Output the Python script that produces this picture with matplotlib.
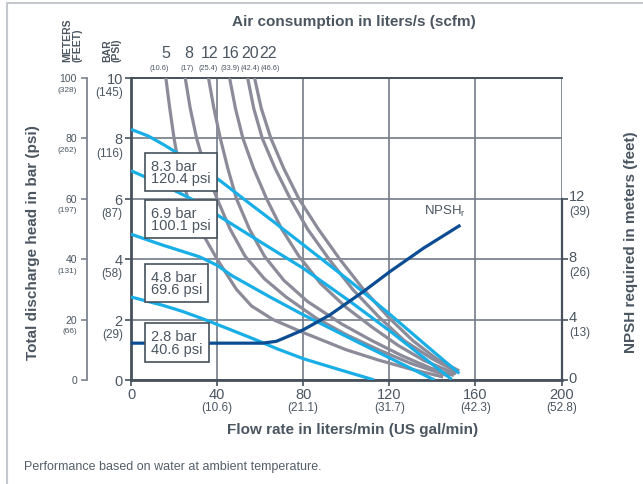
import numpy as np
import matplotlib.pyplot as plt
import matplotlib.transforms as mtransforms

plt.rcParams['font.family'] = ['Liberation Sans', 'DejaVu Sans']

# flow rate (l/min) vs discharge head (bar)
# air consumption curves (scfm)
air_5 = [(16.2, 10), (18, 9), (20, 8), (22.5, 7), (26.5, 6), (32, 5), (40, 4), (49, 3),
         (56, 2.45), (66, 2.0), (79, 1.6), (100, 1.0), (115, 0.66), (130, 0.36), (145, 0.1)]
air_8 = [(25.2, 10), (27.5, 9), (30.5, 8), (34.5, 7), (40, 6), (46, 5), (53, 4.1), (62, 3.35),
         (72, 2.75), (86, 2.05), (100, 1.5), (115, 1.0), (130, 0.55), (148, 0.12)]
air_12 = [(36, 10), (38.5, 9), (41.5, 8), (45, 7), (49, 6), (55, 5), (62, 4.1), (71, 3.3),
          (82, 2.6), (98, 1.85), (112, 1.3), (126, 0.8), (139, 0.4), (150, 0.15)]
air_16 = [(45.8, 10), (48.5, 9), (52, 8), (57, 7), (63, 6), (70, 5), (78, 4.1), (88, 3.2),
          (100, 2.4), (112, 1.75), (124, 1.15), (136, 0.65), (151, 0.2)]
air_20 = [(54.2, 10), (57, 9), (61, 8), (67, 7), (74, 6), (82, 5), (92, 4), (103, 3),
          (115, 2.1), (127, 1.3), (140, 0.7), (152, 0.25)]
air_22 = [(57.4, 10), (60.5, 9), (65, 8), (71, 7), (78, 6), (87, 5), (97, 4), (108, 3),
          (120, 2.05), (131, 1.3), (142, 0.7), (152.5, 0.3)]
air_curves = [air_5, air_8, air_12, air_16, air_20, air_22]
air_labels = ['5', '8', '12', '16', '20', '22']
air_sub = ['(10.6)', '(17)', '(25.4)', '(33.9)', '(42.4)', '(46.6)']

# air inlet pressure curves
p_83 = [(0, 8.3), (8, 8.08), (15, 7.8), (23, 7.45), (32, 7.05), (41.4, 6.6), (55, 5.85),
        (67, 5.2), (80, 4.48), (101.8, 3.27), (120.5, 2.16), (142.3, 0.83), (152.5, 0.22)]
p_69 = [(0, 6.93), (8, 6.68), (16, 6.42), (24, 6.14), (32, 5.85), (41.5, 5.4), (55, 4.8),
        (67, 4.27), (80, 3.7), (101.8, 2.6), (120.5, 1.61), (142.3, 0.39), (149, 0.02)]
p_48 = [(0, 4.83), (8.4, 4.62), (15, 4.46), (23, 4.28), (31.8, 4.08), (40, 3.8), (47, 3.45),
        (64.8, 2.74), (80, 2.16), (101.8, 1.38), (126.7, 0.5), (141, 0.0)]
p_28 = [(0, 2.75), (14.9, 2.47), (24, 2.27), (33.6, 2.02), (45, 1.7), (57, 1.36), (68, 1.03),
        (80.3, 0.7), (96, 0.36), (113, 0.0)]
pressure_curves = [p_83, p_69, p_48, p_28]
pressure_text = ['8.3 bar\n120.4 psi', '6.9 bar\n100.1 psi', '4.8 bar\n69.6 psi', '2.8 bar\n40.6 psi']
box_y = [6.89, 5.33, 3.21, 1.24]

# NPSH required (m)
npsh_flow = [0, 61, 67.5, 74, 80, 92.5, 108, 120.5, 136, 152.4]
npsh_m = [2.44, 2.44, 2.56, 2.95, 3.32, 4.32, 5.86, 7.2, 8.74, 10.2]

x_ticks = [0, 40, 80, 120, 160, 200]
x_sub = ['', '(10.6)', '(21.1)', '(31.7)', '(42.3)', '(52.8)']
bar_ticks = [0, 2, 4, 6, 8, 10]
psi_sub = ['', '(29)', '(58)', '(87)', '(116)', '(145)']
m_ticks = [0, 20, 40, 60, 80, 100]
ft_sub = ['', '(66)', '(131)', '(197)', '(262)', '(328)']
npsh_ticks = [0, 4, 8, 12]
npsh_sub = ['', '(13)', '(26)', '(39)']

txt = '#4b5661'
dark = '#46515c'
gray = '#8b8b9a'
blue = '#19aee6'
navy = '#0b4c93'

fig = plt.figure(figsize=(6.43, 4.85), dpi=100)
ax = fig.add_axes([131 / 643, 104 / 485, 430.5 / 643, 302 / 485])
ax.set_xlim(0, 200)
ax.set_ylim(0, 10)

for c in air_curves:
    xs, ys = zip(*c)
    ax.plot(xs, ys, color=gray, lw=2.3, solid_capstyle='butt', zorder=3)
for c in pressure_curves:
    xs, ys = zip(*c)
    ax.plot(xs, ys, color=blue, lw=2.3, solid_capstyle='butt', zorder=4)

ax.set_xticks(x_ticks)
ax.set_yticks(bar_ticks)
ax.set_xticklabels([])
ax.set_yticklabels([])
ax.grid(True, color='#737c87', lw=1.2)
ax.set_axisbelow(True)
ax.tick_params(direction='out', length=4, width=1.2, color=dark)
for s in ['left', 'bottom']:
    ax.spines[s].set_color(dark)
    ax.spines[s].set_linewidth(2)
ax.spines['top'].set_color(dark)
ax.spines['top'].set_linewidth(1.4)
ax.spines['right'].set_visible(False)

# NPSH axis on the right
ax_r = ax.twinx()
ax_r.set_ylim(0, 20)
ax_r.plot(npsh_flow, npsh_m, color=navy, lw=2.3, zorder=5)
ax_r.set_yticks(npsh_ticks)
ax_r.set_yticklabels([])
ax_r.tick_params(direction='out', length=4, width=1.2, color=dark)
for s in ['left', 'top', 'bottom']:
    ax_r.spines[s].set_visible(False)
ax_r.spines['right'].set_bounds(0, 12)
ax_r.spines['right'].set_color(dark)
ax_r.spines['right'].set_linewidth(1.6)
ax_r.text(136.1, 11.26, r'NPSH$_{\mathregular{r}}$', color=txt, fontsize=9.5, va='center', ha='left')

# meters axis on the far left
ax_m = ax.twinx()
ax_m.set_ylim(0, 100)
ax_m.yaxis.set_ticks_position('left')
ax_m.spines['left'].set_position(('outward', 31.7))
ax_m.set_yticks(m_ticks)
ax_m.set_yticklabels([])
ax_m.tick_params(direction='out', length=4, width=1.2, color='#7d858f')
for s in ['right', 'top', 'bottom']:
    ax_m.spines[s].set_visible(False)
ax_m.spines['left'].set_color('#7d858f')
ax_m.spines['left'].set_linewidth(1.3)

# label boxes
for t, y in zip(pressure_text, box_y):
    ax_r.text(9.4, y * 2, t, fontsize=10.5, color=txt, ha='left', va='center', linespacing=0.88,
              zorder=10, bbox=dict(boxstyle='square,pad=0.4', fc='white', ec=dark, lw=1.2))

# tick label texts
tx = mtransforms.blended_transform_factory(ax.transData, ax.transAxes)
for v, s in zip(x_ticks, x_sub):
    ax.text(v, -0.045, str(v), transform=tx, ha='center', va='center', fontsize=10.5, color=txt)
    ax.text(v, -0.089, s, transform=tx, ha='center', va='center', fontsize=8.5, color=txt)

ty = mtransforms.blended_transform_factory(ax.transAxes, ax.transData)
for v, s in zip(bar_ticks, psi_sub):
    ax.text(-0.019, v - 0.03, str(v), transform=ty, ha='right', va='center', fontsize=10.5, color=txt)
    ax.text(-0.019, v - 0.47, s, transform=ty, ha='right', va='center', fontsize=8.5, color=txt)
for v, s in zip(m_ticks, ft_sub):
    ax.text(-0.1254, v / 10, str(v), transform=ty, ha='right', va='center', fontsize=7.5, color=txt)
    ax.text(-0.1254, v / 10 - 0.37, s, transform=ty, ha='right', va='center', fontsize=6, color=txt)
for v, s in zip(npsh_ticks, npsh_sub):
    ax.text(1.017, v / 2 + 0.08, str(v), transform=ty, ha='left', va='center', fontsize=10.5, color=txt)
    ax.text(1.017, v / 2 - 0.42, s, transform=ty, ha='left', va='center', fontsize=8.5, color=txt)

air_x = [16.1, 26.7, 36.3, 46.5, 55.3, 63.7]
air_sub_x = [13.3, 25.9, 35.8, 46.0, 55.3, 64.7]
for x, s in zip(air_x, air_labels):
    ax.text(x, 1.086, s, transform=tx, ha='center', va='center', fontsize=11.5, color=txt)
for x, s in zip(air_sub_x, air_sub):
    ax.text(x, 1.034, s, transform=tx, ha='center', va='center', fontsize=5.3, color=txt)

fig.text(354 / 643, 1 - 22 / 485, 'Air consumption in liters/s (scfm)', ha='center', va='center',
         fontsize=11, fontweight='bold', color=txt)
fig.text(353 / 643, 1 - 430 / 485, 'Flow rate in liters/min (US gal/min)', ha='center', va='center',
         fontsize=11, fontweight='bold', color=txt)
fig.text(33 / 643, 1 - 242.5 / 485, 'Total discharge head in bar (psi)', rotation=90, ha='center',
         va='center', fontsize=11, fontweight='bold', color=txt)
fig.text(631 / 643, 1 - 242 / 485, 'NPSH required in meters (feet)', rotation=90, ha='center',
         va='center', fontsize=11, fontweight='bold', color=txt)
fig.text(72.5 / 643, 1 - 62 / 485, 'METERS\n(FEET)', rotation=90, ha='center', va='bottom',
         multialignment='left', fontsize=7.5, fontweight='bold', color=txt, linespacing=1.0)
fig.text(112 / 643, 1 - 62 / 485, 'BAR\n(PSI)', rotation=90, ha='center', va='bottom',
         multialignment='left', fontsize=7.5, fontweight='bold', color=txt, linespacing=1.0)
fig.text(24 / 643, 1 - 467 / 485, 'Performance based on water at ambient temperature.',
         ha='left', va='center', fontsize=9, color='#555f69')

# outer frame
fig.add_artist(plt.Line2D([7 / 643, 7 / 643], [0, 1 - 4 / 485], color='#c5c9ce', lw=1.5))
fig.add_artist(plt.Line2D([7 / 643, 1], [1 - 4 / 485, 1 - 4 / 485], color='#c5c9ce', lw=1.5))

fig.savefig('out.png', dpi=100)
